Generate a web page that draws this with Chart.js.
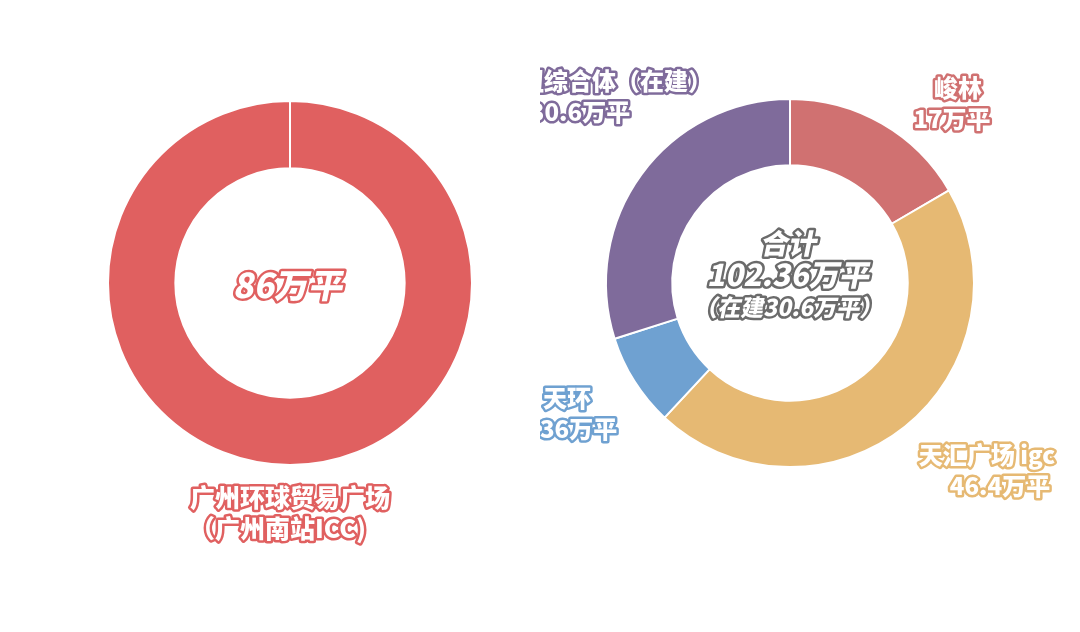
<!DOCTYPE html>
<html><head><meta charset="utf-8">
<script src="https://cdn.jsdelivr.net/npm/chart.js@4"></script>
<style>
html,body{margin:0;padding:0;background:#fff;width:1080px;height:632px;overflow:hidden}
.c{position:absolute;top:0;width:540px;height:632px}
</style></head><body>
<div class="c" style="left:0"><canvas id="a"></canvas></div>
<div class="c" style="left:540px"><canvas id="b"></canvas></div>
<script>
const leftLabels=['广州环球贸易广场（广州南站ICC)'];
const leftValues=[86];
const rightLabels=['峻林','天汇广场 igc','天环','庆盛枢纽综合体（在建）'];
const rightValues=[17,46.4,8.36,30.6];
const rightColors=['#d07171','#e6b973','#6fa1d1','#7f6b9b'];
const FONT='"Noto Sans CJK SC", sans-serif';
function txt(ctx,s,x,y,size,color,italic){
  ctx.save();
  ctx.font=(italic?'italic ':'')+'900 '+size+'px '+FONT;
  ctx.textAlign='center';ctx.textBaseline='middle';
  ctx.lineJoin='round';ctx.lineWidth=5;ctx.strokeStyle=color;
  if(italic){ctx.translate(x,y);ctx.transform(1,0,-0.2,1,0,0);x=0;y=0;ctx.font='900 '+size+'px '+FONT;}
  ctx.strokeText(s,x,y);ctx.fillStyle='#fff';ctx.fillText(s,x,y);
  ctx.restore();
}
const base={responsive:true,maintainAspectRatio:false,animation:false,
  plugins:{legend:{display:false},tooltip:{enabled:false}}};
new Chart(document.getElementById('a'),{type:'doughnut',
  data:{labels:leftLabels,datasets:[{data:leftValues,backgroundColor:['#e06060'],borderColor:'#fff',borderWidth:2}]},
  options:{...base,cutout:'63%',layout:{padding:{left:107,right:67,top:100,bottom:166}}},
  plugins:[{id:'t',afterDraw(c){const x=c.ctx;
    txt(x,leftValues[0]+'万平',290,285,34,'#e06060',true);
    txt(x,'广州环球贸易广场',290,497,25,'#e06060');
    txt(x,'（广州南站ICC)',278,528,25,'#e06060');}}]});
new Chart(document.getElementById('b'),{type:'doughnut',
  data:{labels:rightLabels,datasets:[{data:rightValues,backgroundColor:rightColors,borderColor:'#fff',borderWidth:2}]},
  options:{...base,cutout:'64%',layout:{padding:{left:65,right:105,top:98,bottom:164}}},
  plugins:[{id:'t',afterDraw(c){const x=c.ctx;const o=540;
    const tot=rightValues.reduce((a,b)=>a+b,0);
    txt(x,'合计',790-o,243,28,'#6b6b6b',true);
    txt(x,tot.toFixed(2)+'万平',790-o,275,30,'#6b6b6b',true);
    txt(x,'（在建'+rightValues[3]+'万平）',790-o,307,23,'#6b6b6b',true);
    txt(x,rightLabels[0],958-o,88,24,rightColors[0]);
    txt(x,rightValues[0]+'万平',952-o,119,24,rightColors[0]);
    txt(x,rightLabels[1],987-o,455,24,rightColors[1]);
    txt(x,rightValues[1]+'万平',1000-o,486,24,rightColors[1]);
    txt(x,rightLabels[2],567-o,398,24,rightColors[2]);
    txt(x,rightValues[2]+'万平',567-o,429,24,rightColors[2]);
    txt(x,rightLabels[3],580-o,81,24,rightColors[3]);
    txt(x,rightValues[3]+'万平',580-o,112,24,rightColors[3]);}}]});
</script></body></html>
